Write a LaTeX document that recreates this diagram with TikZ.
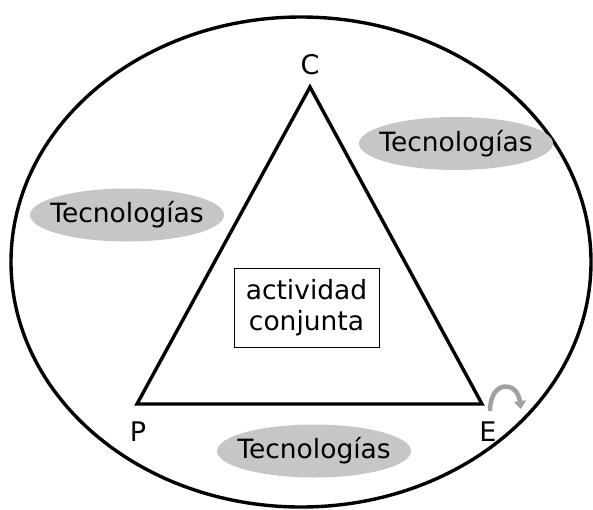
\documentclass[tikz,border=0pt]{standalone}
\usepackage{fontspec}
\setmainfont{DejaVu Sans}
\usetikzlibrary{shapes.geometric,arrows.meta}
\definecolor{techgray}{HTML}{C6C6C6}
\definecolor{arrowgray}{HTML}{A0A0A0}
\tikzset{
  tech/.style={ellipse, fill=techgray, minimum width=194pt, minimum height=53pt, inner xsep=-12pt, inner ysep=0pt, font=\fontsize{26.5}{30}\selectfont},
  vlabel/.style={inner sep=0pt, font=\fontsize{27}{30}\selectfont},
  thick line/.style={line width=3.4pt, line join=miter},
}
\begin{document}
\begin{tikzpicture}[x=1pt,y=-1pt]
\useasboundingbox (0,0) rectangle (593,509);
\node (outer) [draw, thick line, ellipse, minimum width=580pt, minimum height=490pt, inner sep=0pt] at (301,262) {};
\coordinate (c) at (310,87);
\coordinate (p) at (137,404);
\coordinate (e) at (482,404);
\draw[thick line] (c) -- (e) -- (p) -- cycle;
\node (lc) [vlabel] at (310,65) {C};
\node (lp) [vlabel] at (138,432) {P};
\node (le) [vlabel] at (488,432) {E};
\node (box) [draw, line width=1pt, minimum width=145pt, minimum height=79pt, align=center, inner sep=0pt, font=\fontsize{26.5}{31}\selectfont] at (306.5,307.5) {actividad\\conjunta};
\node (t1) [tech] at (127,215) {Tecnologías};
\node (t2) [tech] at (456,143.5) {Tecnologías};
\node (t3) [tech] at (314,451) {Tecnologías};
\coordinate (as) at (490,411);
\coordinate (ae) at (521,409);
\draw[arrowgray, line width=4.5pt, -{Triangle[length=8pt,width=12pt]}] (as) .. controls (490,380) and (517,380) .. (ae);
\end{tikzpicture}
\end{document}
